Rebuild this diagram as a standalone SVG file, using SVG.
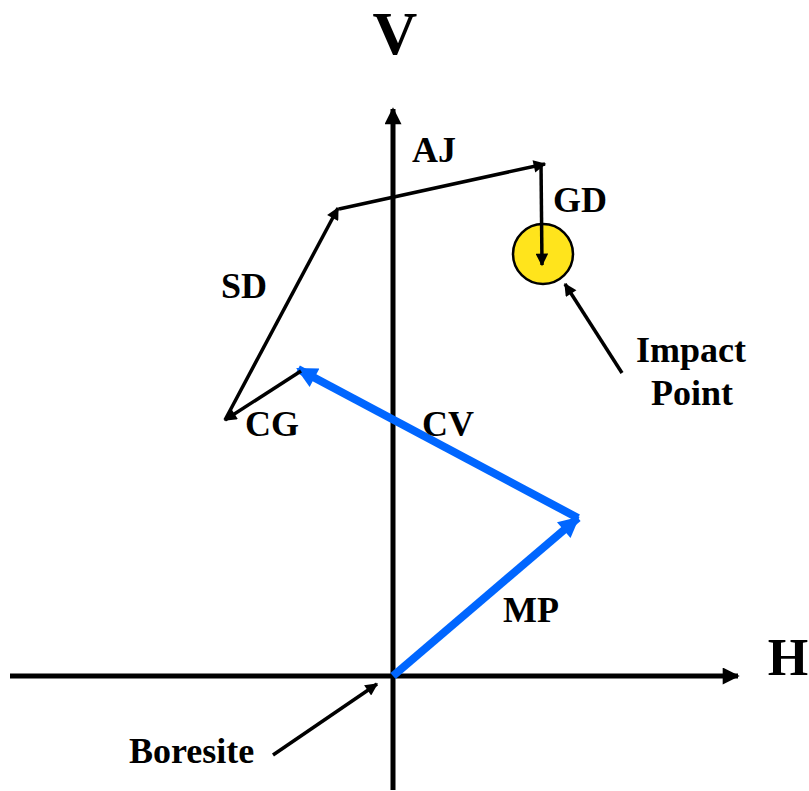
<svg xmlns="http://www.w3.org/2000/svg" width="809" height="791" viewBox="0 0 809 791">
<style>
.lbl{font-family:"Liberation Serif","Times New Roman",serif;font-weight:bold;font-size:36px;fill:#000}
.ax{stroke:#000;stroke-width:5;fill:none}
.blk{stroke:#000;stroke-width:3.5;fill:none}
.blu{stroke:#0066FF;stroke-width:8;fill:none}
</style>
<defs>
<marker id="ha" viewBox="0 0 10 10" refX="9" refY="5" markerWidth="3.8" markerHeight="3.4" orient="auto" markerUnits="strokeWidth"><path d="M0,0 L10,5 L0,10 z" fill="#000"/></marker>
<marker id="hk" viewBox="0 0 10 10" refX="9" refY="5" markerWidth="4.6" markerHeight="3.6" orient="auto" markerUnits="strokeWidth"><path d="M0,0 L10,5 L0,10 z" fill="#000"/></marker>
<marker id="hb" viewBox="0 0 10 10" refX="9" refY="5" markerWidth="3" markerHeight="2.6" orient="auto" markerUnits="strokeWidth"><path d="M0,0 L10,5 L0,10 z" fill="#0066FF"/></marker>
</defs>
<rect width="809" height="791" fill="#fff"/>
<g id="axes">
<line class="ax" x1="393" y1="790" x2="393" y2="109" marker-end="url(#ha)"/>
<line class="ax" x1="10" y1="676" x2="738" y2="676" marker-end="url(#ha)"/>
<text class="lbl" x="395" y="54" text-anchor="middle" style="font-size:62px">V</text>
<text class="lbl" x="788" y="675" text-anchor="middle" style="font-size:52px">H</text>
</g>
<g id="impact">
<circle cx="543" cy="254" r="30" fill="#FFE41C" stroke="#000" stroke-width="2.5"/>
</g>
<g id="connectors">
<line class="blu" x1="393" y1="676" x2="578" y2="518" marker-end="url(#hb)"/>
<line class="blu" x1="578" y1="518" x2="298" y2="369" marker-end="url(#hb)"/>
<line class="blk" x1="301" y1="371" x2="225" y2="420" marker-end="url(#hk)"/>
<line class="blk" x1="225" y1="420" x2="338" y2="208" marker-end="url(#hk)"/>
<line class="blk" x1="339" y1="209" x2="545" y2="164" marker-end="url(#hk)"/>
<line class="blk" x1="541" y1="163" x2="542" y2="265" marker-end="url(#hk)"/>
<line class="blk" x1="622" y1="373" x2="565" y2="284" marker-end="url(#hk)"/>
<line class="blk" x1="273" y1="755" x2="377" y2="684" marker-end="url(#hk)"/>
</g>
<g id="labels">
<text class="lbl" x="412" y="162">AJ</text>
<text class="lbl" x="553" y="212">GD</text>
<text class="lbl" x="221" y="298">SD</text>
<text class="lbl" x="245" y="436">CG</text>
<text class="lbl" x="422" y="436">CV</text>
<text class="lbl" x="503" y="622">MP</text>
<text class="lbl" x="691" y="362" text-anchor="middle">Impact</text>
<text class="lbl" x="692" y="405" text-anchor="middle">Point</text>
<text class="lbl" x="129" y="763">Boresite</text>
</g>
</svg>
